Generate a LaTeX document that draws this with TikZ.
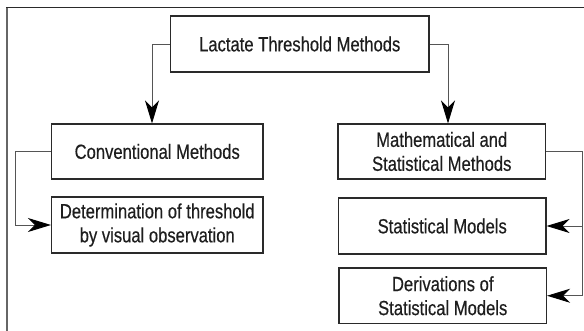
\documentclass[tikz,border=0pt]{standalone}
\usepackage{fontspec}
\setmainfont{Liberation Sans}[FakeStretch=0.81, FakeBold=0.4]
\usetikzlibrary{arrows.meta,calc}
\definecolor{txt}{HTML}{1E1E1E}
\definecolor{boxline}{HTML}{2A2A2A}
\definecolor{conncol}{HTML}{555555}
\tikzset{
  box/.style={draw=boxline, line width=1.1pt, inner sep=0pt, align=center,
    text=txt, font=\fontsize{20.5}{24}\selectfont},
  conn/.style={draw=conncol, line width=0.9pt},
  arr/.style={conn, -{Stealth[length=23pt, width=14pt, inset=7pt, color=black]}}
}
\begin{document}
\begin{tikzpicture}[x=1pt, y=-1pt]
\useasboundingbox (0,0) rectangle (584,331);
% frame
\draw[line width=2pt, draw=gray!80!black] (7,331) -- (7,7.5);
\draw[line width=1.5pt, draw=boxline] (6,7.5) -- (584,7.5);
% nodes
\node[box, minimum width=258.5pt, minimum height=56pt] (top) at (299.75,44) {Lactate Threshold Methods};
\node[box, minimum width=211.5pt, minimum height=55pt] (conv) at (157.25,151.5) {Conventional Methods};
\node[box, minimum width=211.5pt, minimum height=56pt] (det) at (157.25,225) {Determination of threshold\\by visual observation};
\node[box, minimum width=207.5pt, minimum height=55pt] (math) at (441.75,151.5) {Mathematical and\\Statistical Methods};
\node[box, minimum width=207.5pt, minimum height=56pt] (stat) at (442.25,226) {Statistical Models};
\node[box, minimum width=207.5pt, minimum height=55.5pt] (deriv) at (442.75,295.75) {Derivations of\\Statistical Models};
% helper coordinates
\coordinate (lx) at (152,0);
\coordinate (rx) at (448,0);
\coordinate (llx) at (15,0);
\coordinate (rrx) at (582,0);
% connectors
\draw[arr] (top.west) -| (lx |- conv.north);
\draw[arr] (top.east) -| (rx |- math.north);
\draw[arr] (conv.west) -| (llx |- det.west) -- (det.west);
\draw[arr] (math.east) -| (rrx |- deriv.east) -- (deriv.east);
\draw[arr] (rrx |- stat.east) -- (stat.east);
\end{tikzpicture}
\end{document}
